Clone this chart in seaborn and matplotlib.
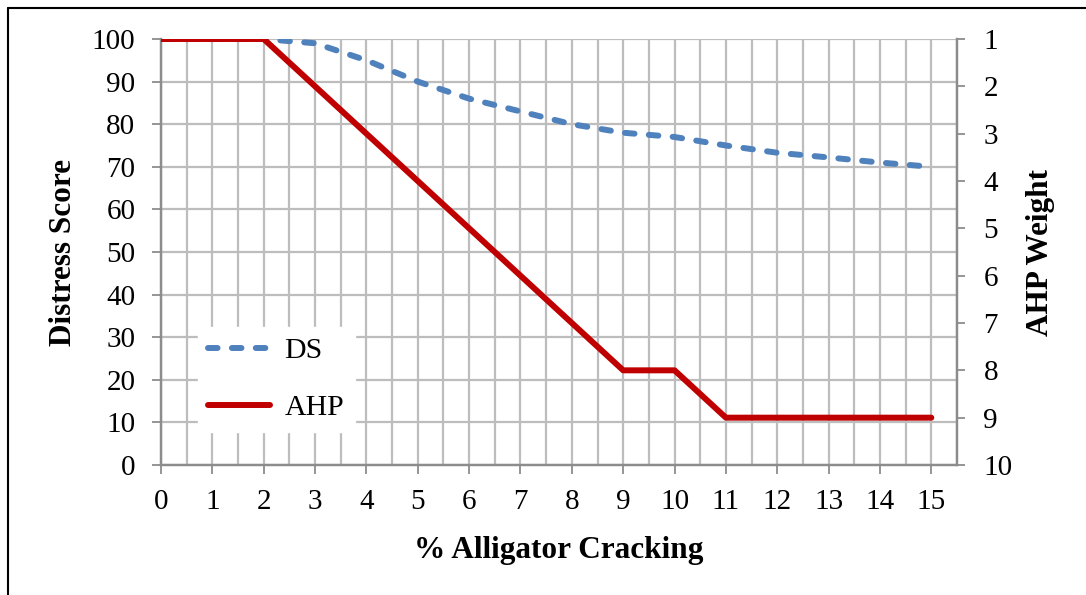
import matplotlib
matplotlib.use("Agg")
import matplotlib.pyplot as plt
import seaborn as sns
import numpy as np
import pandas as pd
from matplotlib.lines import Line2D

crack = list(range(16))
ds = [100, 100, 100, 99, 95, 90, 86, 83, 80, 78, 77, 75, 73.3, 72.2, 71, 70]
ahp = [1, 1, 1, 2, 3, 4, 5, 6, 7, 8, 8, 9, 9, 9, 9, 9]
left_ticks = list(range(0, 101, 10))
right_ticks = list(range(1, 11))
x_ticks = list(range(16))

sns.set_theme(style="white")
plt.rcParams['font.family'] = ['Liberation Serif', 'DejaVu Serif']
plt.rcParams['text.color'] = 'black'
plt.rcParams['axes.labelcolor'] = 'black'

blue = "#4F81BD"
red = "#C00000"
grid_c = "#BDBDBD"
axis_c = "#8C8C8C"

fig = plt.figure(figsize=(10.86, 5.95), dpi=100)
ax = fig.add_axes([161/1086, 1-465/595, (957-161)/1086, (465-39)/595])
ax2 = ax.twinx()

df = pd.DataFrame({"x": crack, "ds": ds, "ahp": ahp})
sns.lineplot(data=df, x="x", y="ds", ax=ax, color=blue, lw=4.3, zorder=5)
ax.lines[-1].set_dashes((1.6, 2.4))
ax.lines[-1].set_dash_capstyle('round')
sns.lineplot(data=df, x="x", y="ahp", ax=ax2, color=red, lw=4.3, zorder=5)
ax2.lines[-1].set_solid_capstyle('round')

ax.set_xlim(0, 15.5)
ax.set_ylim(0, 100)
ax2.set_ylim(10, 1)
ax.set_xticks(x_ticks)
ax.set_xticks(np.arange(0.5, 15.6, 1), minor=True)
ax.set_yticks(left_ticks)
ax2.set_yticks(right_ticks)

ax.grid(True, which='both', axis='x', color=grid_c, lw=1.6)
ax.grid(True, which='major', axis='y', color=grid_c, lw=1.6)
ax.set_axisbelow(True)

for a in (ax, ax2):
    for s in a.spines.values():
        s.set_color(axis_c)
        s.set_linewidth(1.6)
ax.spines['top'].set_visible(False)
ax2.spines['top'].set_visible(False)

ax.tick_params(axis='both', which='major', length=6.5, width=1.3, color=axis_c,
               labelsize=21, labelcolor='black', direction='out', pad=12)
ax.tick_params(axis='x', which='minor', length=0)
ax.tick_params(axis='y', left=True, right=False)
ax.tick_params(axis='x', bottom=True, pad=11)
ax2.tick_params(axis='y', length=6, width=1.3, color=axis_c, labelsize=21,
                labelcolor='black', direction='out', right=True, pad=13)

ax.set_xlabel("% Alligator Cracking", fontsize=22.5, fontweight='bold', labelpad=15,
              color='black')
ax.set_ylabel("Distress Score", fontsize=22.5, fontweight='bold', labelpad=10,
              color='black')
ax2.set_ylabel("AHP Weight", fontsize=22.5, fontweight='bold', labelpad=10,
               color='black')

h1 = Line2D([0], [0], color=blue, lw=4.3, dashes=(1.6, 2.4), dash_capstyle='round')
h2 = Line2D([0], [0], color=red, lw=4.3, solid_capstyle='round')
leg = ax2.legend([h1, h2], ["DS", "AHP"], loc='upper left',
                 bbox_to_anchor=(198/1086, 1-327/595), bbox_transform=fig.transFigure,
                 frameon=True, fancybox=False, framealpha=1, edgecolor='white',
                 fontsize=21.5, handlelength=2.05, handletextpad=0.5, labelspacing=1.0,
                 borderpad=0.35, borderaxespad=0, labelcolor='black')
leg.set_zorder(10)

# outer frame (left and top edges visible)
fig.add_artist(Line2D([8/1086, 8/1086], [0, 1-8/595], color='black', lw=1.5,
                      transform=fig.transFigure))
fig.add_artist(Line2D([8/1086, 1], [1-8/595, 1-8/595], color='black', lw=1.5,
                      transform=fig.transFigure))

fig.savefig("out.png", dpi=100)
